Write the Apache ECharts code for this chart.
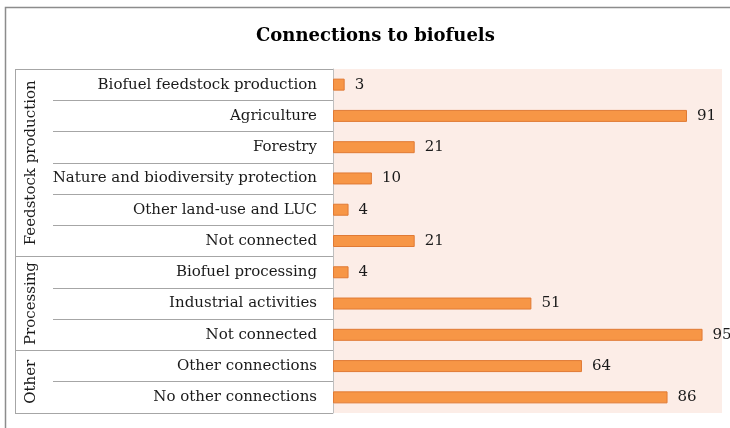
<!DOCTYPE html>
<html>
<head>
<meta charset="utf-8">
<script src="https://cdn.jsdelivr.net/npm/echarts@6/dist/echarts.min.js"></script>
<style>
html, body { margin: 0; padding: 0; background: #fff; }
#main { width: 730px; height: 428px; }
</style>
</head>
<body>
<div id="main"></div>
<script>
var categories = [
    'Biofuel feedstock production',
    'Agriculture',
    'Forestry',
    'Nature and biodiversity protection',
    'Other land-use and LUC',
    'Not connected',
    'Biofuel processing',
    'Industrial activities',
    'Not connected ',
    'Other connections',
    'No other connections'
];
var values = [3, 91, 21, 10, 4, 21, 4, 51, 95, 64, 86];
var groupNames = ['Feedstock production', 'Processing', 'Other'];
var groupStart = [0, 6, 9];
var groupSize = [6, 3, 2];

var serif = '"DejaVu Serif", "Liberation Serif", serif';
var lineGray = '#a6a6a6';

var myChart = echarts.init(document.getElementById('main'));

var option = {
    backgroundColor: '#ffffff',
    animation: false,
    title: {
        text: 'Connections to biofuels',
        left: 251,
        top: 22,
        textStyle: {
            fontFamily: serif,
            fontSize: 18,
            fontWeight: 'bold',
            color: '#000'
        }
    },
    grid: {
        left: 333,
        right: 8,
        top: 69,
        bottom: 15,
        show: true,
        backgroundColor: '#fcede7',
        borderWidth: 0
    },
    xAxis: {
        type: 'value',
        min: 0,
        max: 100,
        show: false
    },
    yAxis: [{
        type: 'category',
        inverse: true,
        data: categories,
        axisLine: { show: true, lineStyle: { color: '#bfbfbf', width: 1 } },
        axisTick: {
            show: true,
            interval: 0,
            length: 280,
            lineStyle: { color: lineGray, width: 1 }
        },
        axisLabel: {
            margin: 16,
            interval: 0,
            fontFamily: serif,
            fontSize: 15,
            color: '#1a1a1a',
            formatter: function (v) { return v.trim(); }
        },
        splitLine: { show: false }
    }, {
        // group boundaries, longer ticks
        type: 'category',
        inverse: true,
        position: 'left',
        data: categories,
        axisLine: { show: false },
        axisTick: {
            show: true,
            length: 318,
            interval: function (index) { return groupStart.indexOf(index) >= 0; },
            lineStyle: { color: lineGray, width: 1 }
        },
        axisLabel: { show: false },
        splitLine: { show: false }
    }],
    series: [{
        type: 'bar',
        data: values,
        barWidth: 12,
        itemStyle: {
            color: '#f79646',
            borderColor: '#e07a35',
            borderWidth: 1
        },
        label: {
            show: true,
            position: 'right',
            distance: 10,
            fontFamily: serif,
            fontSize: 15,
            color: '#1a1a1a'
        }
    }]
};

myChart.setOption(option);

// group labels and frame, placed from the category scale
var band = myChart.convertToPixel({ yAxisIndex: 0 }, 1) - myChart.convertToPixel({ yAxisIndex: 0 }, 0);
var tableTop = myChart.convertToPixel({ yAxisIndex: 0 }, 0) - band / 2;
var tableBottom = myChart.convertToPixel({ yAxisIndex: 0 }, categories.length - 1) + band / 2;

var graphics = [{
    type: 'rect',
    shape: { x: 5.5, y: 7.5, width: 800, height: 500 },
    style: { fill: null, stroke: '#8c8c8c', lineWidth: 1.5 },
    silent: true
}, {
    type: 'line',
    shape: { x1: 15.5, y1: tableTop, x2: 15.5, y2: tableBottom },
    style: { stroke: lineGray, lineWidth: 1 },
    silent: true
}];

for (var g = 0; g < groupNames.length; g++) {
    var y0 = myChart.convertToPixel({ yAxisIndex: 0 }, groupStart[g]);
    var y1 = myChart.convertToPixel({ yAxisIndex: 0 }, groupStart[g] + groupSize[g] - 1);
    graphics.push({
        type: 'text',
        x: 31,
        y: (y0 + y1) / 2,
        rotation: Math.PI / 2,
        style: {
            text: groupNames[g],
            fontFamily: serif,
            fontSize: 15,
            fill: '#1a1a1a',
            align: 'center',
            verticalAlign: 'middle'
        },
        silent: true
    });
}

myChart.setOption({ graphic: graphics });
</script>
</body>
</html>
